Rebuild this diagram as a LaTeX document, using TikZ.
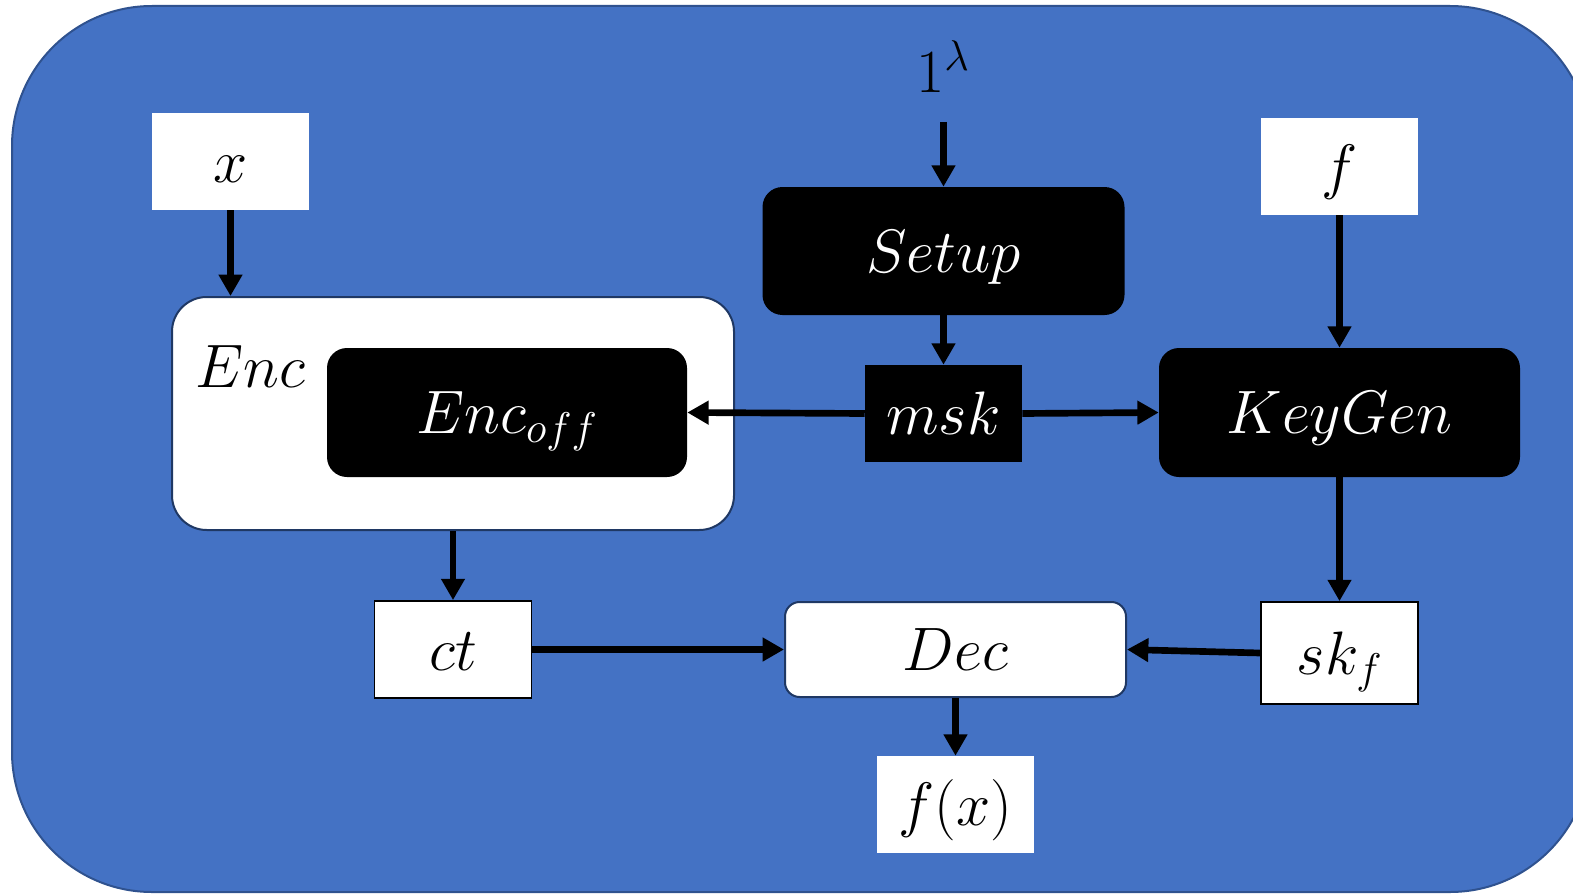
\documentclass[tikz,border=0pt]{standalone}
\usepackage{fix-cm}
\usetikzlibrary{arrows.meta}

\definecolor{panel}{HTML}{4472C4}
\definecolor{panelrim}{HTML}{2F528F}
\definecolor{navy}{HTML}{1F3864}

\begin{document}
\begin{tikzpicture}[x=0.75pt,y=-0.75pt,
  lbl/.style={font=\fontsize{46}{50}\selectfont, inner sep=0pt,
              text height=40pt, text depth=8.5pt},
  whitebox/.style={lbl, fill=white, minimum width=117.75pt, minimum height=72.75pt},
  framedbox/.style={whitebox, draw=black, line width=1.3pt},
  blackbox/.style={lbl, fill=black, text=white, rounded corners=15pt,
                   minimum width=270pt, minimum height=96.75pt},
  conn/.style={line width=5pt, -{Triangle[width=17pt,length=16pt]}}]

\useasboundingbox (0,0) rectangle (1573,895);

% blue panel behind everything, cut at the page edges
\begin{scope}
  \clip (0,0) rectangle (1573,895);
  \draw[panelrim, fill=panel, line width=1.5pt, rounded corners=105pt]
    (12,6) rectangle (1590,892);
\end{scope}

% inputs
\node[whitebox] (x) at (230.5,161.5) {$x$};
\node[whitebox] (f) at (1339.5,166.5) {$f$};
\node[lbl, anchor=base] (one) at (943,93) {$1^{\lambda}$};
\coordinate (oneTip) at (943.5,122);

% setup and master key
\node[blackbox, minimum width=271.5pt, minimum height=96pt] (setup) at (943.5,251) {$Setup$};
\node[whitebox, fill=black, text=white] (msk) at (943.5,413.5) {$msk$};

% encryption block with its offline part
\node[lbl, draw=navy, fill=white, line width=1.5pt, rounded corners=26pt,
      minimum width=421.5pt, minimum height=174.75pt] (enc) at (453,413.5) {};
\node[lbl, anchor=base west] (enclbl) at (195,387) {$Enc$};
\node[blackbox] (encoff) at (507,412.5) {$Enc_{off}$};

% key generation
\node[blackbox, minimum width=270.75pt] (keygen) at (1339.5,412.5) {$KeyGen$};

% outputs
\node[framedbox] (ct) at (453,649.5) {$ct$};
\node[lbl, draw=navy, fill=white, line width=1.5pt, rounded corners=11pt,
      minimum width=255.75pt, minimum height=71.25pt] (dec) at (955.5,649.5) {$Dec$};
\node[framedbox, minimum height=76.5pt] (skf) at (1339.5,653) {$sk_f$};
\node[whitebox] (fx) at (955.5,804.5) {$f(x)$};

% connectors
\draw[conn] (x.south) -- (x.south |- enc.north);
\draw[conn] (oneTip) -- (setup.north);
\draw[conn] (setup.south) -- (msk.north);
\draw[conn] (msk.west) -- (encoff.east);
\draw[conn] (msk.east) -- (keygen.west);
\draw[conn] (f.south) -- (keygen.north);
\draw[conn] (enc.south) -- (ct.north);
\draw[conn] (keygen.south) -- (skf.north);
\draw[conn] (ct.east) -- (dec.west);
\draw[conn] (skf.west) -- (dec.east);
\draw[conn] (dec.south) -- (fx.north);
\end{tikzpicture}
\end{document}
